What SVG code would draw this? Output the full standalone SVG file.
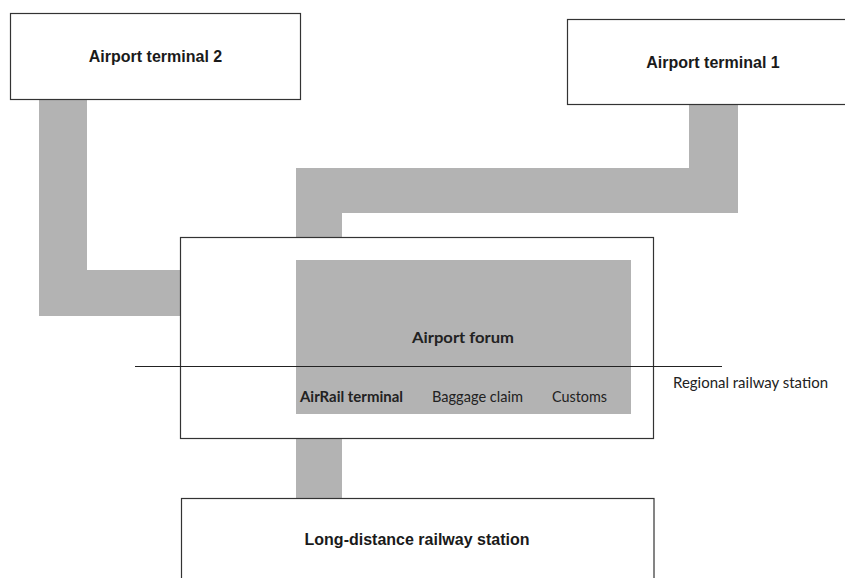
<svg xmlns="http://www.w3.org/2000/svg" width="845" height="578" viewBox="0 0 845 578">
<style>
.box{fill:#ffffff;stroke:#333333;stroke-width:1.2}
.conn{fill:#b3b3b3;stroke:none}
.t1{font-family:"Liberation Sans",Arial,sans-serif;font-weight:bold;font-size:16px;fill:#1a1a1a;text-anchor:middle}
.t2{font-family:Lato,"Open Sans",sans-serif;font-size:16px;fill:#222222}
.b{font-weight:bold}
</style>
<rect width="845" height="578" fill="#ffffff"/>
<g id="connectors">
<polygon class="conn" points="39,99 87,99 87,270 181,270 181,316 39,316"/>
<polygon class="conn" points="689,104 738,104 738,213 342,213 342,237 296,237 296,168 689,168"/>
<rect class="conn" x="296" y="439" width="46" height="59"/>
</g>
<g id="terminal2">
<rect class="box" x="10.5" y="13.5" width="290" height="86"/>
<text class="t1" x="155.5" y="62">Airport terminal 2</text>
</g>
<g id="terminal1">
<rect class="box" x="567.5" y="19.5" width="291" height="85"/>
<text class="t1" x="713" y="68">Airport terminal 1</text>
</g>
<g id="forum-building">
<rect class="box" x="180.5" y="237.5" width="473" height="201"/>
</g>
<g id="airport-forum">
<rect x="296" y="260" width="335" height="154" fill="#b3b3b3"/>
<text class="t2 b" x="412" y="343" textLength="102" lengthAdjust="spacingAndGlyphs">Airport forum</text>
<text class="t2 b" x="300" y="402" textLength="103" lengthAdjust="spacingAndGlyphs">AirRail terminal</text>
<text class="t2" x="432" y="402" textLength="91" lengthAdjust="spacingAndGlyphs">Baggage claim</text>
<text class="t2" x="552" y="402" textLength="55" lengthAdjust="spacingAndGlyphs">Customs</text>
</g>
<g id="longdistance">
<rect class="box" x="181.5" y="498.5" width="472.5" height="100"/>
<text class="t1" x="417" y="545">Long-distance railway station</text>
</g>
<g id="regional">
<line x1="135" y1="366.5" x2="722" y2="366.5" stroke="#222222" stroke-width="1.2"/>
<text class="t2" x="673" y="388" font-size="15" textLength="155" lengthAdjust="spacingAndGlyphs">Regional railway station</text>
</g>
</svg>
